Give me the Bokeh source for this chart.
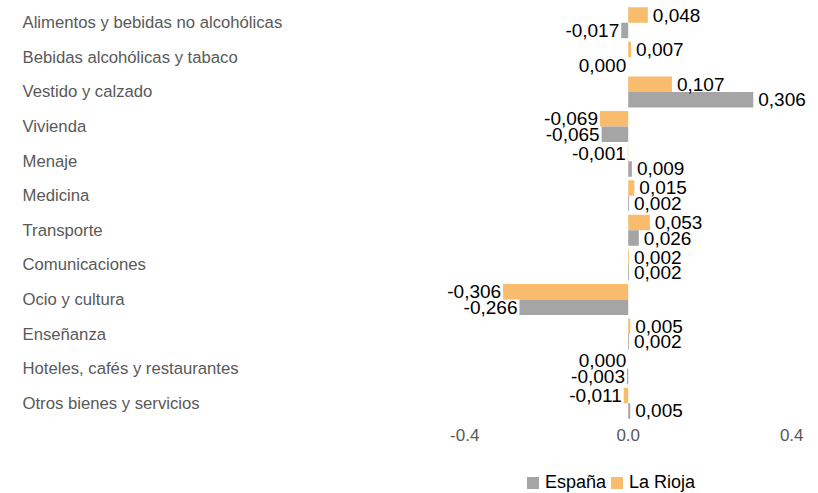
from bokeh.plotting import figure
from bokeh.layouts import column
from bokeh.models import (FactorRange, Range1d, FixedTicker, CustomJSTickFormatter,
                          Legend, LegendItem, ColumnDataSource)
from bokeh.transform import dodge
from bokeh.core.properties import value
from bokeh.embed import file_html
from bokeh.resources import INLINE

categories = ["Alimentos y bebidas no alcohólicas", "Bebidas alcohólicas y tabaco",
              "Vestido y calzado", "Vivienda", "Menaje", "Medicina", "Transporte",
              "Comunicaciones", "Ocio y cultura", "Enseñanza",
              "Hoteles, cafés y restaurantes", "Otros bienes y servicios"]
espana = [-0.017, 0.000, 0.306, -0.065, 0.009, 0.002, 0.026, 0.002, -0.266, 0.002, -0.003, 0.005]
rioja = [0.048, 0.007, 0.107, -0.069, -0.001, 0.015, 0.053, 0.002, -0.306, 0.005, 0.000, -0.011]
series_names = ["España", "La Rioja"]
x_ticks = [-0.4, 0.0, 0.4]

GRAY = "#A5A5A5"
ORANGE = "#F8BC6C"
FONT = "Liberation Sans"

W = 818
zero_px = 627.7
scale = 408.75
x_start = -zero_px / scale
x_end = (W - zero_px) / scale
label_x = x_start + 22 / scale

p = figure(y_range=FactorRange(factors=list(reversed(categories))),
           x_range=Range1d(x_start, x_end),
           frame_width=W, frame_height=415,
           output_backend="svg", toolbar_location=None)
p.min_border_left = 0
p.min_border_right = 0
p.min_border_top = 5
p.min_border_bottom = 40
p.outline_line_color = None
p.background_fill_color = "white"
p.border_fill_color = "white"
p.xgrid.visible = False
p.ygrid.visible = False
p.yaxis.visible = False

def fmt(v):
    return f"{v:.3f}".replace(".", ",")

def src(vals):
    return ColumnDataSource(dict(
        cat=categories, v=vals, lab=[fmt(v) for v in vals],
        align=["left" if v > 0 else "right" for v in vals],
        off=[5 if v > 0 else -2 for v in vals]))

s_r = src(rioja)
s_e = src(espana)

p.hbar(y=dodge("cat", 0.225, range=p.y_range), right="v", left=0, height=0.45,
       source=s_r, fill_color=ORANGE, line_color=None)
p.hbar(y=dodge("cat", -0.225, range=p.y_range), right="v", left=0, height=0.45,
       source=s_e, fill_color=GRAY, line_color=None)

for s, d in ((s_r, 0.225), (s_e, -0.225)):
    p.text(x="v", y=dodge("cat", d, range=p.y_range), text="lab", source=s,
           x_offset="off", text_align="align", text_baseline="middle",
           text_font=value(FONT), text_font_size="19px", text_color="black")

p.text(x=label_x, y=categories, text=categories, text_align="left",
       text_baseline="middle", text_font=value(FONT), text_font_size="16.7px",
       text_color="#595959")

ax = p.xaxis[0]
ax.ticker = FixedTicker(ticks=x_ticks)
ax.formatter = CustomJSTickFormatter(code="return tick.toFixed(1);")
ax.axis_line_color = None
ax.major_tick_line_color = None
ax.minor_tick_line_color = None
ax.major_label_standoff = 2
ax.major_label_text_font = FONT
ax.major_label_text_font_size = "17px"
ax.major_label_text_color = "#595959"

# legend strip (swatch renderers sit far outside the visible range)
pl = figure(width=W, height=33, output_backend="svg", toolbar_location=None,
            x_range=Range1d(0, 1), y_range=Range1d(0, 1))
pl.min_border = 0
pl.outline_line_color = None
pl.background_fill_color = "white"
pl.border_fill_color = "white"
pl.axis.visible = False
pl.grid.visible = False
d_e = pl.hbar(y=[50], right=[51], left=[50], height=1, fill_color=GRAY, line_color=None)
d_r = pl.hbar(y=[50], right=[51], left=[50], height=1, fill_color=ORANGE, line_color=None)
legend = Legend(items=[LegendItem(label=series_names[0], renderers=[d_e]),
                       LegendItem(label=series_names[1], renderers=[d_r])],
                orientation="horizontal", location=(525, 0))
legend.label_text_font = FONT
legend.label_text_font_size = "18px"
legend.label_text_color = "black"
legend.glyph_width = 15
legend.glyph_height = 15
legend.label_standoff = 5
legend.spacing = 3
legend.padding = 0
legend.margin = 0
legend.border_line_color = None
legend.background_fill_alpha = 0
legend.label_height = 16
pl.add_layout(legend, "center")

open("out.html", "w").write(file_html(column(p, pl, spacing=0), INLINE))
